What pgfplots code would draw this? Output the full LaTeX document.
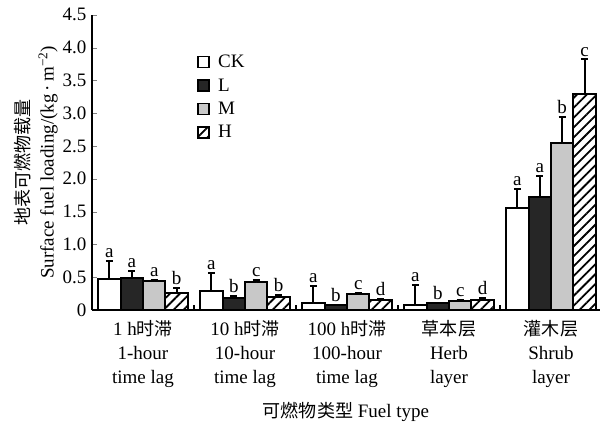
\documentclass[border=0pt]{standalone}
\usepackage{pgfplots}
\pgfplotsset{compat=1.18}
\usepackage{pgfplotstable}
\usetikzlibrary{patterns.meta}
\usepackage{fontspec}
\setmainfont{Liberation Serif}
\newfontfamily\cjk[Scale=0.95]{Noto Sans CJK SC}
\definecolor{darkbar}{HTML}{262626}
\definecolor{graybar}{HTML}{C8C8C8}
\newcommand{\fs}{\fontsize{19}{24}\selectfont}

\pgfplotstableread{
x y err lab
0 0.47 0.28 a
1 0.29 0.28 a
2 0.10 0.27 a
3 0.07 0.31 a
4 1.56 0.28 a
}\ck
\pgfplotstableread{
x y err lab
0 0.49 0.11 a
1 0.18 0.03 b
2 0.07 0.01 b
3 0.10 0.01 b
4 1.72 0.32 a
}\ll
\pgfplotstableread{
x y err lab
0 0.44 0.02 a
1 0.42 0.04 c
2 0.25 0.01 c
3 0.14 0.01 c
4 2.54 0.40 b
}\mm
\pgfplotstableread{
x y err lab
0 0.26 0.08 b
1 0.20 0.03 b
2 0.16 0.01 d
3 0.16 0.02 d
4 3.30 0.52 c
}\hh

\begin{document}
\begin{tikzpicture}
\begin{axis}[
  name=ax,
  x=102pt, y=65.6pt,
  xmin=-0.5, xmax=4.48, ymin=0, ymax=4.5,
  axis x line*=bottom, axis y line*=left,
  axis line style={line width=1.4pt},
  ybar, bar width=0.22,
  tick align=inside,
  major tick length=5pt,
  ytick={0,0.5,...,4.5},
  yticklabels={0,0.5,1.0,1.5,2.0,2.5,3.0,3.5,4.0,4.5},
  xtick={0,1,2,3,4},
  major x tick style={draw=none},
  extra x ticks={0.5,1.5,2.5,3.5},
  extra x tick labels={},
  extra x tick style={major x tick style={draw=black, line width=1.3pt}},
  xticklabels={
    {1 h{\cjk 时滞}\\1-hour\\time lag},
    {10 h{\cjk 时滞}\\10-hour\\time lag},
    {100 h{\cjk 时滞}\\100-hour\\time lag},
    {{\cjk 草本层}\\Herb\\layer},
    {{\cjk 灌木层}\\Shrub\\layer}},
  xticklabel style={align=center, font=\fs, yshift=-7pt},
  yticklabel style={font=\fs, xshift=-2pt},
  /pgf/number format/assume math mode=true,
  xlabel={{\cjk 可燃物类型} Fuel type},
  xlabel style={font=\fs, yshift=-8pt},
  ylabel={{\cjk 地表可燃物载量}\\Surface fuel loading/(kg\,·\,m\textsuperscript{−2})},
  ylabel style={align=center, font=\fs, yshift=-2pt},
  legend style={draw=none, fill=none, font=\fs, at={(axis cs:0.53,3.92)}, anchor=north west,
    row sep=5.5pt, inner sep=0pt},
  legend cell align=left,
  legend image code/.code={\draw[#1, line width=1.8pt] (0pt,-5.5pt) rectangle (11pt,5.5pt); \path (17pt,0pt);},
  error bars/y dir=plus, error bars/y explicit,
  error bars/error bar style={line width=2pt},
  error bars/error mark options={rotate=90, mark size=3.5pt, line width=2pt},
  nodes near coords style={font=\fs, inner sep=1pt, yshift=2pt},
]
\addplot[bar shift=-0.33, draw=black, line width=2pt, fill=white] table[x=x, y=y, y error=err]{\ck};
\addplot[bar shift=-0.11, draw=black, line width=2pt, fill=darkbar] table[x=x, y=y, y error=err]{\ll};
\addplot[bar shift=0.11, draw=black, line width=2pt, fill=graybar] table[x=x, y=y, y error=err]{\mm};
\addplot[bar shift=0.33, draw=black, line width=2pt, fill=white,
  postaction={pattern={Lines[angle=45, distance=7pt, line width=1.8pt]}}] table[x=x, y=y, y error=err]{\hh};
\legend{CK, L, M, H}
\addplot[forget plot, bar shift=-0.33, draw=none, fill=none, bar width=0,
  nodes near coords, point meta=explicit symbolic, error bars/y dir=none]
  table[x=x, y expr=\thisrow{y}+\thisrow{err}, meta=lab]{\ck};
\addplot[forget plot, bar shift=-0.11, draw=none, fill=none, bar width=0,
  nodes near coords, point meta=explicit symbolic, error bars/y dir=none]
  table[x=x, y expr=\thisrow{y}+\thisrow{err}, meta=lab]{\ll};
\addplot[forget plot, bar shift=0.11, draw=none, fill=none, bar width=0,
  nodes near coords, point meta=explicit symbolic, error bars/y dir=none]
  table[x=x, y expr=\thisrow{y}+\thisrow{err}, meta=lab]{\mm};
\addplot[forget plot, bar shift=0.33, draw=none, fill=none, bar width=0,
  nodes near coords, point meta=explicit symbolic, error bars/y dir=none]
  table[x=x, y expr=\thisrow{y}+\thisrow{err}, meta=lab]{\hh};
\end{axis}
\pgfresetboundingbox
\path[use as bounding box] ([shift={(-92pt,-114pt)}]ax.south west) rectangle ([shift={(510pt,310pt)}]ax.south west);
\end{tikzpicture}
\end{document}
